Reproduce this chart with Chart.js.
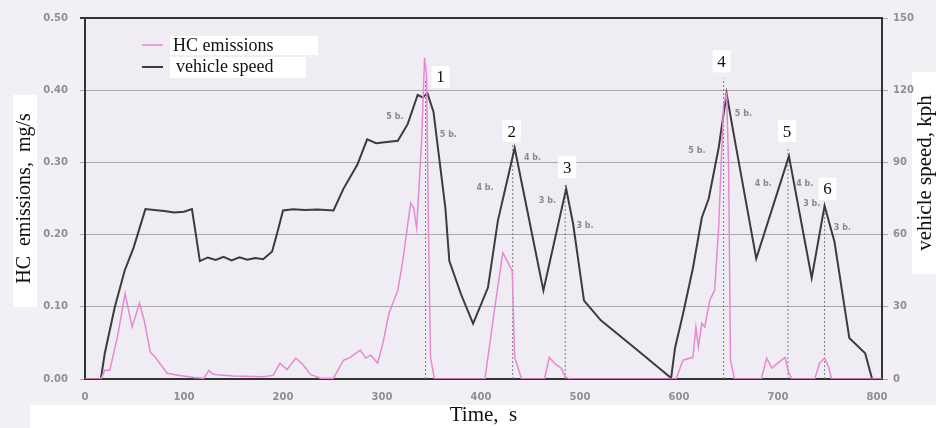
<!DOCTYPE html>
<html>
<head>
<meta charset="utf-8">
<script src="https://cdn.jsdelivr.net/npm/chart.js@4.4.1/dist/chart.umd.min.js"></script>
<style>
  html, body { margin: 0; padding: 0; background: #f2f0f5; }
  canvas { display: block; }
</style>
</head>
<body>
<canvas id="chart" width="936" height="428"></canvas>
<script>
// vehicle speed trace (time s, kph)
var speedTime = [0, 16, 20, 30, 40, 49, 61, 70, 80, 90, 100, 108, 112, 116, 124, 132, 140, 148, 156, 164,
  172, 180, 189, 195, 200, 210, 222, 235, 251, 261, 275, 285, 294, 305, 316, 326, 336, 341, 346, 352,
  364, 368, 380, 392, 407, 417, 434, 463, 486, 493, 504, 521, 555, 592, 596, 604, 614, 623, 630, 640,
  648, 656, 678, 711, 734, 747, 757, 772, 788, 795, 805];
var speedKph = [0, 0, 10.7, 29.7, 45, 54.5, 70.6, 70.2, 69.8, 69.2, 69.5, 70.6, 60, 49, 50.5, 49.5, 50.8, 49.3, 50.6, 49.6,
  50.3, 49.8, 53, 62, 70, 70.5, 70.2, 70.4, 70, 79, 89, 99.6, 98, 98.5, 99, 106, 118, 117, 118.6, 111,
  71, 49, 35, 23, 38, 65.7, 96, 36.8, 79, 64.5, 32.6, 24.4, 13, 0.4, 13, 27, 46, 67, 75, 96,
  118.6, 100, 50, 92.6, 42, 72, 57, 17, 10.7, 0, 0];

// HC emissions trace (time s, mg/s)
var hcTime = [0, 16, 20, 25, 33, 40.5, 47.6, 55, 60, 66, 71, 83, 96, 110, 120, 125, 129, 133, 150, 180,
  190, 197, 204, 213, 220, 228, 238, 251, 261, 268, 278, 283.5, 288.6, 295.6, 301, 307, 316, 321, 326, 329,
  332, 335, 340, 343, 345, 347, 349, 353, 404, 413, 422, 430, 431.5, 434, 441, 464, 469, 474, 481, 485,
  490, 597, 604, 614, 617, 619.5, 623, 626, 631, 636, 640, 645, 648, 650, 652, 656, 683, 688.6, 693.7, 700.7,
  707, 711, 714, 737, 742, 747, 751, 754, 805];
var hcMgs = [0, 0, 0.012, 0.012, 0.06, 0.118, 0.072, 0.105, 0.08, 0.037, 0.030, 0.008, 0.005, 0.002, 0.001, 0.012, 0.007, 0.006, 0.004, 0.003,
  0.005, 0.022, 0.013, 0.029, 0.02, 0.006, 0.001, 0.001, 0.026, 0.03, 0.04, 0.029, 0.033, 0.022, 0.05, 0.091, 0.123, 0.164, 0.215, 0.244,
  0.237, 0.209, 0.33, 0.445, 0.42, 0.2, 0.03, 0, 0, 0.09, 0.175, 0.154, 0.15, 0.03, 0, 0, 0.03, 0.022, 0.015, 0.003,
  0, 0, 0.026, 0.03, 0.072, 0.044, 0.077, 0.072, 0.109, 0.123, 0.21, 0.38, 0.394, 0.30, 0.026, 0, 0, 0.029, 0.015, 0.023,
  0.03, 0.008, 0, 0, 0.022, 0.029, 0.017, 0, 0];

var timeTicks = [0, 100, 200, 300, 400, 500, 600, 700, 800];
var hcTicks = [0, 0.1, 0.2, 0.3, 0.4, 0.5];
var speedTicks = [0, 30, 60, 90, 120, 150];

// numbered peaks: dotted marker time and top (kph), label place (s, kph)
var peakNames = ['1', '2', '3', '4', '5', '6'];
var peakTime = [344, 432, 485, 645, 710, 747];
var peakTop = [124, 98, 81.5, 125, 96, 73];
var peakLabelTime = [359, 431, 487, 643, 709, 750];
var peakLabelKph = [125.5, 103, 88, 132, 103, 79];

// gear notes beside the ramps
var gearText = ['5 b.', '5 b.', '4 b.', '4 b.', '3 b.', '3 b.', '5 b.', '5 b.', '4 b.', '4 b.', '3 b.', '3 b.'];
var gearTime = [313, 367, 404, 452, 467, 505, 618, 665, 685, 727, 734, 765];
var gearKph = [109, 101.6, 79.3, 91.7, 74, 63.6, 94.6, 110, 81, 81, 72.7, 62.8];

var serif = '"Liberation Serif", "DejaVu Serif", serif';
var tickFont = { family: '"DejaVu Sans", sans-serif', size: 10, weight: 'bold' };

var markerSets = peakTime.map(function (t, i) {
  return {
    data: [{ x: t, y: 0 }, { x: t, y: peakTop[i] }],
    yAxisID: 'y2',
    borderColor: '#7d7d7d',
    borderWidth: 1,
    borderDash: [2, 2],
    pointRadius: 0
  };
});

var decor = {
  id: 'decor',
  beforeDraw: function (chart) {
    var ctx = chart.ctx, a = chart.chartArea;
    ctx.save();
    ctx.fillStyle = '#f2f0f5';
    ctx.fillRect(0, 0, chart.width, chart.height);
    ctx.fillStyle = '#efedf3';
    ctx.fillRect(a.left, a.top, a.right - a.left, a.bottom - a.top);
    ctx.fillStyle = '#ffffff';
    ctx.fillRect(30, 405, chart.width - 30, chart.height - 405);
    ctx.fillRect(13, 95, 24, 212);
    ctx.fillRect(912, 72, 24, 202);
    ctx.restore();
  },
  afterDatasetsDraw: function (chart) {
    var ctx = chart.ctx;
    var xs = chart.scales.x, ys = chart.scales.y2;
    ctx.save();

    // legend
    ctx.fillStyle = '#ffffff';
    ctx.fillRect(170, 36, 148, 19);
    ctx.fillRect(170, 57, 136, 21);
    ctx.lineWidth = 1.5;
    ctx.strokeStyle = '#e58ad2';
    ctx.beginPath(); ctx.moveTo(142, 45); ctx.lineTo(163, 45); ctx.stroke();
    ctx.lineWidth = 2;
    ctx.strokeStyle = '#3c3c3c';
    ctx.beginPath(); ctx.moveTo(142, 67); ctx.lineTo(163, 67); ctx.stroke();
    ctx.fillStyle = '#111';
    ctx.font = '18px ' + serif;
    ctx.textBaseline = 'middle';
    ctx.textAlign = 'left';
    ctx.fillText('HC emissions', 173, 46);
    ctx.fillText('vehicle speed', 176, 67);

    // numbered peaks
    ctx.textAlign = 'center';
    ctx.font = '17px ' + serif;
    peakNames.forEach(function (n, i) {
      var px = xs.getPixelForValue(peakLabelTime[i]);
      var py = ys.getPixelForValue(peakLabelKph[i]);
      ctx.fillStyle = '#ffffff';
      ctx.fillRect(px - 9, py - 11, 18, 22);
      ctx.fillStyle = '#111';
      ctx.fillText(n, px, py + 1);
    });

    // gear notes
    ctx.font = 'bold 8px "DejaVu Sans", sans-serif';
    ctx.fillStyle = '#8a8a8a';
    gearText.forEach(function (g, i) {
      ctx.fillText(g, xs.getPixelForValue(gearTime[i]), ys.getPixelForValue(gearKph[i]));
    });

    // right axis title, reading upwards
    ctx.translate(925, 173);
    ctx.rotate(-Math.PI / 2);
    ctx.font = '21px ' + serif;
    ctx.fillStyle = '#111';
    ctx.fillText('vehicle speed, kph', 0, 0);
    ctx.restore();
  }
};

new Chart(document.getElementById('chart'), {
  type: 'line',
  data: {
    datasets: [{
      label: 'HC emissions',
      data: hcTime.map(function (t, i) { return { x: t, y: hcMgs[i] }; }),
      yAxisID: 'y',
      borderColor: '#e58ad2',
      borderWidth: 1.5,
      pointRadius: 0,
      tension: 0
    }, {
      label: 'vehicle speed',
      data: speedTime.map(function (t, i) { return { x: t, y: speedKph[i] }; }),
      yAxisID: 'y2',
      borderColor: '#3c3c3c',
      borderWidth: 2,
      pointRadius: 0,
      tension: 0
    }].concat(markerSets)
  },
  options: {
    responsive: false,
    animation: false,
    events: [],
    layout: { padding: { top: 16 } },
    plugins: { legend: { display: false }, tooltip: { enabled: false } },
    scales: {
      x: {
        type: 'linear', min: 0, max: 805,
        afterBuildTicks: function (s) { s.ticks = timeTicks.map(function (v) { return { value: v }; }); },
        afterFit: function (s) { s.height = 49; },
        grid: { display: false },
        border: { color: '#333', width: 2 },
        ticks: { font: tickFont, color: '#8f8f8f', padding: 4, maxRotation: 0 },
        title: { display: true, text: 'Time,  s', font: { family: serif, size: 21 }, color: '#111', padding: { top: 0, bottom: 0 } }
      },
      y: {
        position: 'left', min: 0, max: 0.5,
        afterBuildTicks: function (s) { s.ticks = hcTicks.map(function (v) { return { value: v }; }); },
        afterFit: function (s) { s.width = 85; },
        grid: {
          color: function (c) { return c.tick && c.tick.value >= 0.5 ? '#333' : '#a9a9a9'; },
          lineWidth: function (c) { return c.tick && c.tick.value >= 0.5 ? 2 : 1; },
          tickLength: 5
        },
        border: { color: '#333', width: 2 },
        ticks: { font: tickFont, color: '#8f8f8f', padding: 12, callback: function (v) { return v.toFixed(2); } },
        title: { display: true, text: 'HC  emissions,  mg/s', font: { family: serif, size: 20 }, color: '#111', padding: { top: 13, bottom: 0 } }
      },
      y2: {
        position: 'right', min: 0, max: 150,
        afterBuildTicks: function (s) { s.ticks = speedTicks.map(function (v) { return { value: v }; }); },
        afterFit: function (s) { s.width = 54; },
        grid: { drawOnChartArea: false, color: '#a9a9a9', tickLength: 6 },
        border: { color: '#333', width: 2 },
        ticks: { font: tickFont, color: '#8f8f8f', padding: 5 }
      }
    }
  },
  plugins: [decor]
});
</script>
</body>
</html>
